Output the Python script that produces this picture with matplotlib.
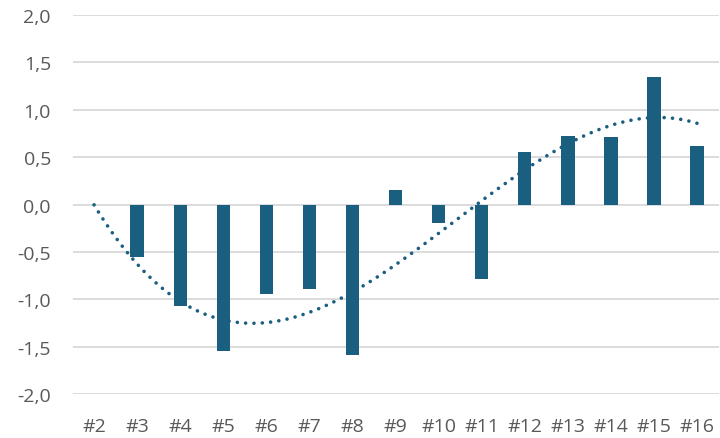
import matplotlib
matplotlib.use("Agg")
import matplotlib.pyplot as plt
import numpy as np

categories = ["#2", "#3", "#4", "#5", "#6", "#7", "#8", "#9", "#10", "#11", "#12", "#13", "#14", "#15", "#16"]
values = [0.0, -0.55, -1.07, -1.54, -0.94, -0.89, -1.59, 0.15, -0.19, -0.78, 0.56, 0.72, 0.71, 1.35, 0.62]
y_ticks = [-2.0, -1.5, -1.0, -0.5, 0.0, 0.5, 1.0, 1.5, 2.0]

bar_color = "#1a5e80"
text_color = "#595959"
grid_color = "#d9d9d9"

plt.rcParams['font.family'] = ['Open Sans', 'DejaVu Sans']

fig = plt.figure(figsize=(7.2, 4.39), dpi=100)
ax = fig.add_axes([72.5/720, 1-395.3/439, (718.6-72.5)/720, (395.3-16)/439])

x = np.arange(len(categories))
ax.bar(x, values, width=0.31, color=bar_color, zorder=3)

# cubic polynomial trendline (Excel style)
xf = np.arange(1, len(values)+1)
coef = np.polyfit(xf, values, 3)
xs = np.linspace(1, len(values), 300)
ax.plot(xs-1, np.polyval(coef, xs), color=bar_color, lw=2.6,
        linestyle=(0, (0.01, 2.3)), dash_capstyle='round', zorder=4)

ax.set_xlim(-0.5, len(categories)-0.5)
ax.set_ylim(-2.0, 2.0)
ax.set_yticks(y_ticks)
ax.set_yticklabels([f"{v:.1f}".replace(".", ",") for v in y_ticks])
ax.set_xticks(x)
ax.set_xticklabels(categories)
ax.grid(axis='y', color=grid_color, lw=1.3, zorder=0)
ax.set_axisbelow(True)
for s in ax.spines.values():
    s.set_visible(False)
ax.tick_params(axis='both', length=0, labelsize=14, labelcolor=text_color)
ax.tick_params(axis='y', pad=15.5)
ax.tick_params(axis='x', pad=16)

fig.savefig("out.png", dpi=100)
